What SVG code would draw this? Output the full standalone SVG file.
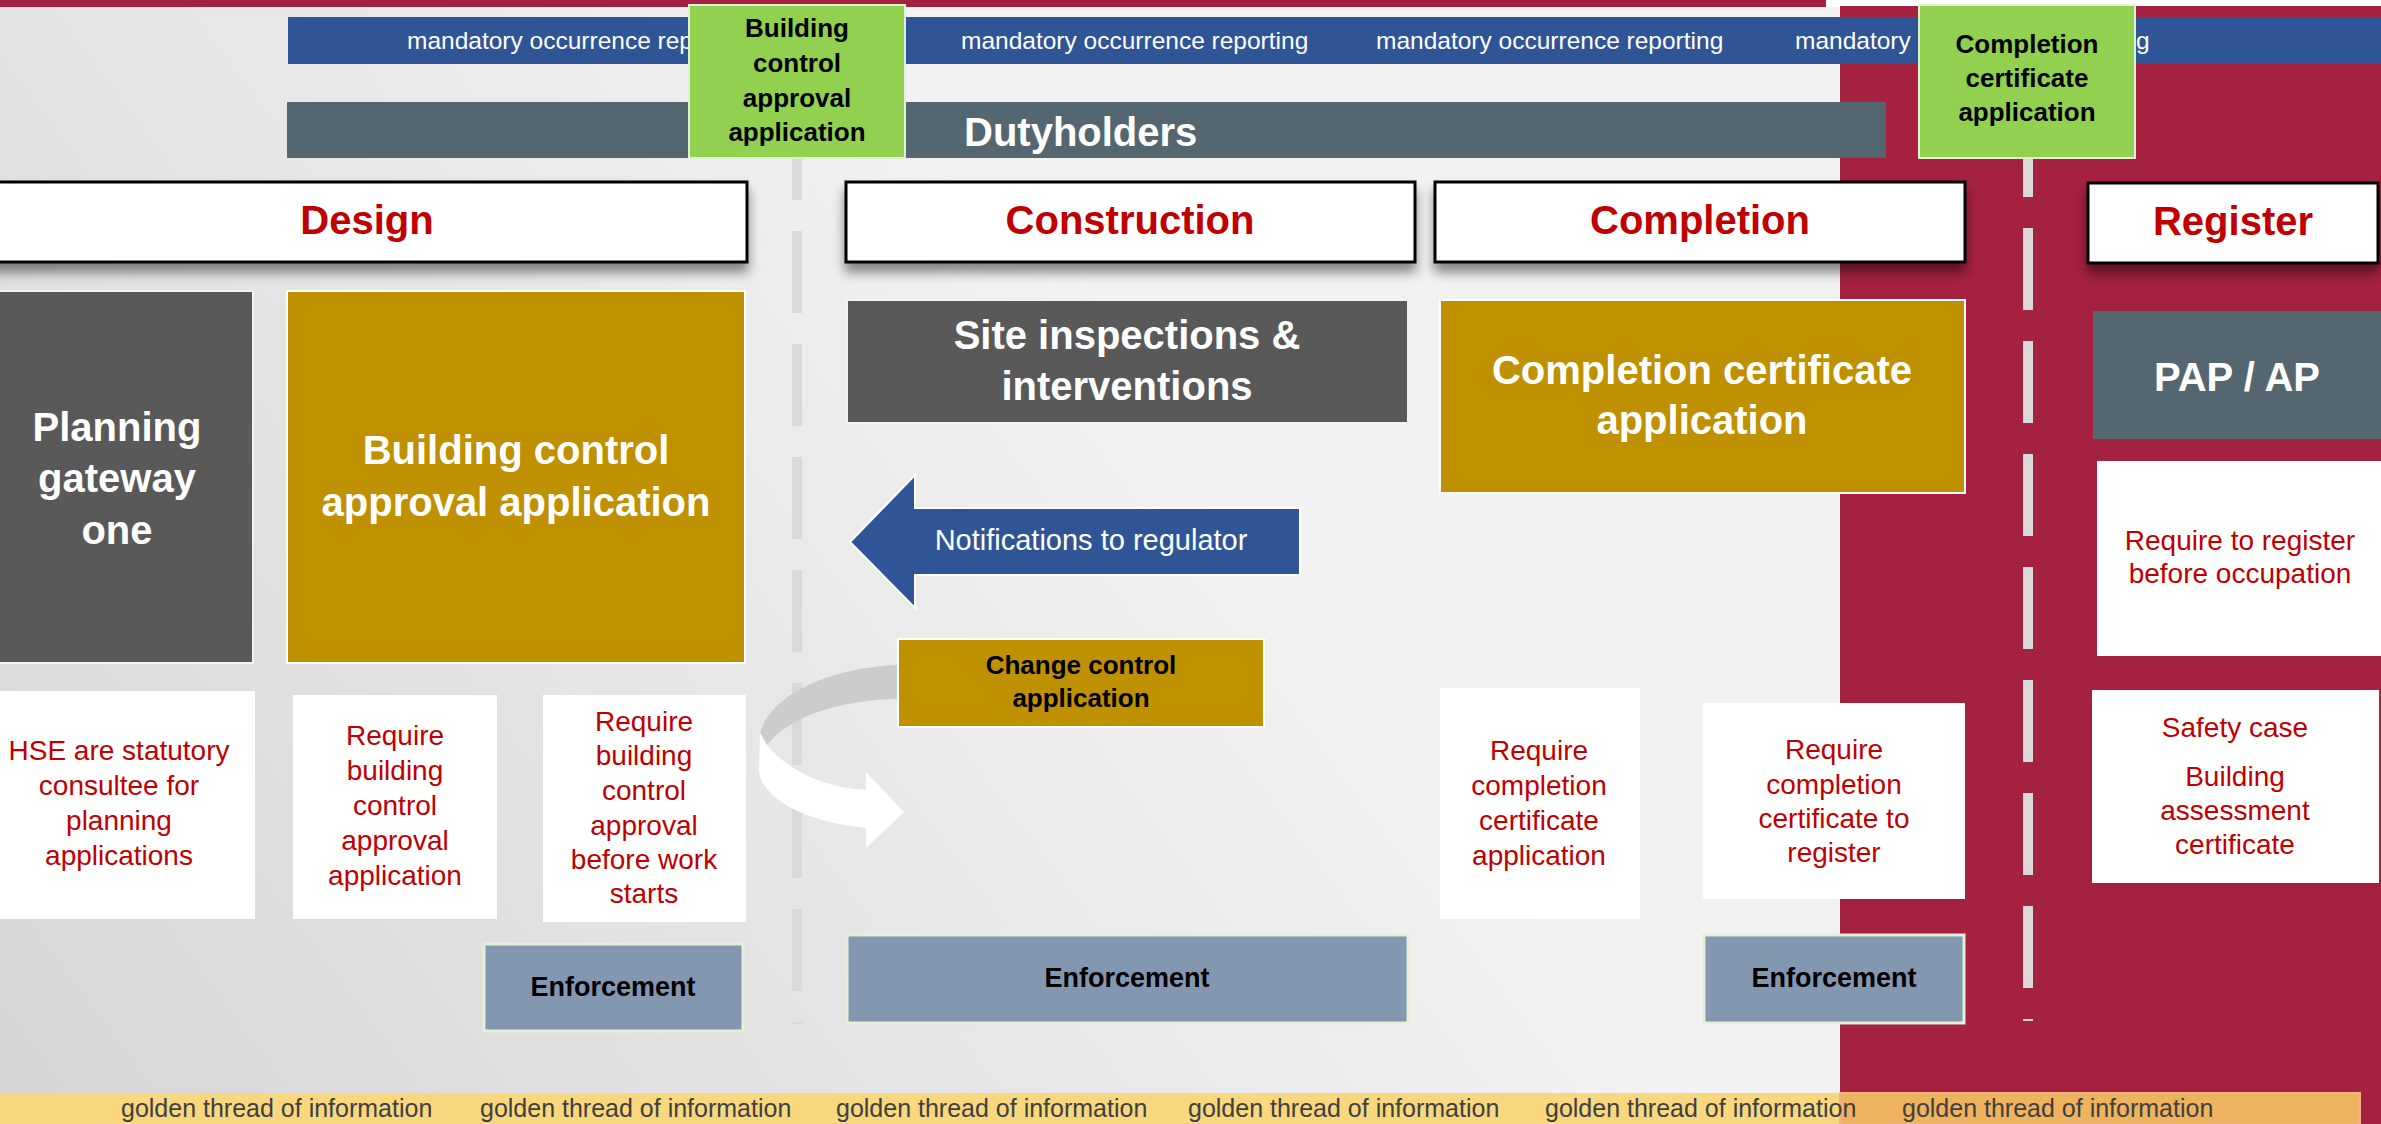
<svg xmlns="http://www.w3.org/2000/svg" width="2381" height="1124" viewBox="0 0 2381 1124">
<defs>
  <linearGradient id="bg" x1="0" y1="1124" x2="1100" y2="300" gradientUnits="userSpaceOnUse">
    <stop offset="0" stop-color="#d5d5d5"/>
    <stop offset="1" stop-color="#f2f2f2"/>
  </linearGradient>
  <filter id="shadow" x="-5%" y="-20%" width="110%" height="160%">
    <feDropShadow dx="0" dy="9" stdDeviation="6" flood-color="#000" flood-opacity="0.45"/>
  </filter>
  <style>
    text { font-family: "Liberation Sans", Arial, sans-serif; }
    .bar-text { fill: #ffffff; font-size: 24.5px; }
    .green { fill: #92d050; stroke: #e2f0d9; stroke-width: 2; }
    .green-text { fill: #000000; font-size: 26px; font-weight: bold; text-anchor: middle; }
    .header { fill: #ffffff; stroke: #000000; stroke-width: 3; filter: url(#shadow); }
    .header-text { fill: #c00000; font-size: 40px; font-weight: bold; text-anchor: middle; }
    .big-white { fill: #ffffff; font-size: 40px; font-weight: bold; text-anchor: middle; }
    .dark { fill: #595959; stroke: #f2f2f2; stroke-width: 2; }
    .gold { fill: #bf9000; stroke: #ffffff; stroke-width: 2; }
    .slate { fill: #546670; }
    .note { fill: #ffffff; }
    .note-text { fill: #c00000; font-size: 28px; text-anchor: middle; }
    .enf { fill: #8497b0; stroke: #e2f0d9; stroke-width: 3; }
    .enf-text { fill: #000000; font-size: 27px; font-weight: bold; text-anchor: middle; }
    .dash { stroke: #d9d9d9; stroke-width: 10; stroke-dasharray: 82 31; fill: none; }
    .gold-text { fill: #404040; font-size: 25px; }
  </style>
</defs>

<!-- background -->
<rect x="0" y="0" width="2381" height="1124" fill="url(#bg)"/>
<rect x="1826" y="0" width="555" height="7" fill="#ffffff"/>
<rect x="0" y="0" width="1826" height="7" fill="#a52140"/>
<rect x="1840" y="6" width="541" height="1118" fill="#a52140"/>

<!-- mandatory occurrence reporting bar -->
<g id="mor-bar">
  <rect x="288" y="17" width="2093" height="47" fill="#2f5597"/>
  <text class="bar-text" x="407" y="49">mandatory occurrence rep</text>
  <text class="bar-text" x="961" y="49">mandatory occurrence reporting</text>
  <text class="bar-text" x="1376" y="49">mandatory occurrence reporting</text>
  <text class="bar-text" x="1795" y="49">mandatory</text>
  <text class="bar-text" x="2136" y="49">g</text>
</g>

<!-- Dutyholders bar -->
<g id="dutyholders">
  <rect x="287" y="102" width="1599" height="56" fill="#546670"/>
  <text x="964" y="146" fill="#ffffff" font-size="40" font-weight="bold">Dutyholders</text>
</g>

<!-- golden thread band -->
<g id="golden-thread">
  <rect x="0" y="1093" width="1840" height="31" fill="#f9d77e"/>
  <rect x="1840" y="1093" width="520" height="31" fill="#efb25e" stroke="#f4b183" stroke-width="2"/>
  <text class="gold-text" x="121" y="1117">golden thread of information</text>
  <text class="gold-text" x="480" y="1117">golden thread of information</text>
  <text class="gold-text" x="836" y="1117">golden thread of information</text>
  <text class="gold-text" x="1188" y="1117">golden thread of information</text>
  <text class="gold-text" x="1545" y="1117">golden thread of information</text>
  <text class="gold-text" x="1902" y="1117">golden thread of information</text>
</g>

<!-- connectors: dashed gateway lines and curved arrow -->
<g id="connectors">
  <line class="dash" x1="797" y1="158" x2="797" y2="1024" stroke-dashoffset="40"/>
  <line class="dash" x1="2028" y1="158" x2="2028" y2="1021" stroke-dashoffset="43"/>
  <path d="M898,665 C835,667 772,692 760,733 L767,745 C790,716 840,700 898,699 Z" fill="#cccccc"/>
  <path d="M767,745 C790,773 828,788 866,790 L866,772 L904,812 L866,848 L866,828 C806,822 764,800 759,772 L760,733 Z" fill="#ffffff"/>
</g>

<!-- green gateway boxes -->
<g id="gateway-bcaa">
  <rect class="green" x="689" y="5" width="216" height="153"/>
  <text class="green-text" x="797" y="37">Building</text>
  <text class="green-text" x="797" y="72">control</text>
  <text class="green-text" x="797" y="107">approval</text>
  <text class="green-text" x="797" y="141">application</text>
</g>
<g id="gateway-cca">
  <rect class="green" x="1919" y="5" width="216" height="153"/>
  <text class="green-text" x="2027" y="53">Completion</text>
  <text class="green-text" x="2027" y="87">certificate</text>
  <text class="green-text" x="2027" y="121">application</text>
</g>

<!-- phase headers -->
<g id="header-design">
  <rect class="header" x="-12" y="182" width="759" height="80"/>
  <text class="header-text" x="367" y="234">Design</text>
</g>
<g id="header-construction">
  <rect class="header" x="846" y="182" width="569" height="80"/>
  <text class="header-text" x="1130" y="234">Construction</text>
</g>
<g id="header-completion">
  <rect class="header" x="1435" y="182" width="530" height="80"/>
  <text class="header-text" x="1700" y="234">Completion</text>
</g>
<g id="header-register">
  <rect class="header" x="2088" y="183" width="290" height="80"/>
  <text class="header-text" x="2233" y="235">Register</text>
</g>

<!-- Design column -->
<g id="planning-gateway-one">
  <rect class="dark" x="-2" y="291" width="255" height="372"/>
  <text class="big-white" x="117" y="441">Planning</text>
  <text class="big-white" x="117" y="492">gateway</text>
  <text class="big-white" x="117" y="544">one</text>
</g>
<g id="bcaa-box">
  <rect class="gold" x="287" y="291" width="458" height="372"/>
  <text class="big-white" x="516" y="464">Building control</text>
  <text class="big-white" x="516" y="516">approval application</text>
</g>
<g id="hse-note">
  <rect class="note" x="0" y="691" width="255" height="228"/>
  <text class="note-text" x="119" y="760">HSE are statutory</text>
  <text class="note-text" x="119" y="795">consultee for</text>
  <text class="note-text" x="119" y="830">planning</text>
  <text class="note-text" x="119" y="865">applications</text>
</g>
<g id="require-bcaa-note">
  <rect class="note" x="293" y="695" width="204" height="224"/>
  <text class="note-text" x="395" y="745">Require</text>
  <text class="note-text" x="395" y="780">building</text>
  <text class="note-text" x="395" y="815">control</text>
  <text class="note-text" x="395" y="850">approval</text>
  <text class="note-text" x="395" y="885">application</text>
</g>
<g id="require-before-work-note">
  <rect class="note" x="543" y="695" width="203" height="227"/>
  <text class="note-text" x="644" y="731">Require</text>
  <text class="note-text" x="644" y="765">building</text>
  <text class="note-text" x="644" y="800">control</text>
  <text class="note-text" x="644" y="835">approval</text>
  <text class="note-text" x="644" y="869">before work</text>
  <text class="note-text" x="644" y="903">starts</text>
</g>
<g id="enforcement-design">
  <rect class="enf" x="484" y="944" width="259" height="87"/>
  <text class="enf-text" x="613" y="996">Enforcement</text>
</g>

<!-- Construction column -->
<g id="site-inspections">
  <rect class="dark" x="847" y="300" width="561" height="123"/>
  <text class="big-white" x="1127" y="349">Site inspections &amp;</text>
  <text class="big-white" x="1127" y="400">interventions</text>
</g>
<g id="notifications">
  <polygon points="850,542 915,475 915,508 1300,508 1300,575 915,575 915,608" fill="#2f5597" stroke="#ffffff" stroke-width="2"/>
  <text x="1091" y="550" fill="#ffffff" font-size="29" text-anchor="middle">Notifications to regulator</text>
</g>
<g id="change-control">
  <rect class="gold" x="898" y="639" width="366" height="88"/>
  <text class="green-text" x="1081" y="674">Change control</text>
  <text class="green-text" x="1081" y="707">application</text>
</g>
<g id="enforcement-construction">
  <rect class="enf" x="847" y="935" width="561" height="88"/>
  <text class="enf-text" x="1127" y="987">Enforcement</text>
</g>

<!-- Completion column -->
<g id="completion-certificate">
  <rect class="gold" x="1440" y="300" width="525" height="193"/>
  <text class="big-white" x="1702" y="384">Completion certificate</text>
  <text class="big-white" x="1702" y="434">application</text>
</g>
<g id="require-cc-application-note">
  <rect class="note" x="1440" y="688" width="200" height="231"/>
  <text class="note-text" x="1539" y="760">Require</text>
  <text class="note-text" x="1539" y="795">completion</text>
  <text class="note-text" x="1539" y="830">certificate</text>
  <text class="note-text" x="1539" y="865">application</text>
</g>
<g id="require-cc-register-note">
  <rect class="note" x="1703" y="703" width="262" height="196"/>
  <text class="note-text" x="1834" y="759">Require</text>
  <text class="note-text" x="1834" y="794">completion</text>
  <text class="note-text" x="1834" y="828">certificate to</text>
  <text class="note-text" x="1834" y="862">register</text>
</g>
<g id="enforcement-completion">
  <rect class="enf" x="1704" y="935" width="260" height="88"/>
  <text class="enf-text" x="1834" y="987">Enforcement</text>
</g>

<!-- Register column -->
<g id="pap-ap">
  <rect class="slate" x="2093" y="311" width="288" height="128"/>
  <text class="big-white" x="2237" y="391">PAP / AP</text>
</g>
<g id="require-register-note">
  <rect class="note" x="2097" y="461" width="284" height="195"/>
  <text class="note-text" x="2240" y="550">Require to register</text>
  <text class="note-text" x="2240" y="583">before occupation</text>
</g>
<g id="safety-case-note">
  <rect class="note" x="2092" y="690" width="287" height="193"/>
  <text class="note-text" x="2235" y="737">Safety case</text>
  <text class="note-text" x="2235" y="786">Building</text>
  <text class="note-text" x="2235" y="820">assessment</text>
  <text class="note-text" x="2235" y="854">certificate</text>
</g>
</svg>
